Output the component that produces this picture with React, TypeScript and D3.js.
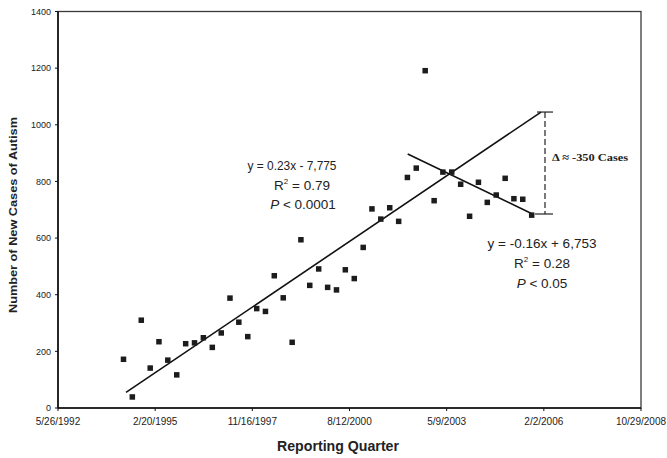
import React from "react";
import * as d3 from "d3";

// X axis in spreadsheet serial day numbers
const xTicks = [33750, 34750, 35750, 36750, 37750, 38750, 39750];
const yTicks = [0, 200, 400, 600, 800, 1000, 1200, 1400];

const quarters = [
  "3/31/1994", "6/30/1994", "9/30/1994", "12/31/1994",
  "3/31/1995", "6/30/1995", "9/30/1995", "12/31/1995",
  "3/31/1996", "6/30/1996", "9/30/1996", "12/31/1996",
  "3/31/1997", "6/30/1997", "9/30/1997", "12/31/1997",
  "3/31/1998", "6/30/1998", "9/30/1998", "12/31/1998",
  "3/31/1999", "6/30/1999", "9/30/1999", "12/31/1999",
  "3/31/2000", "6/30/2000", "9/30/2000", "12/31/2000",
  "3/31/2001", "6/30/2001", "9/30/2001", "12/31/2001",
  "3/31/2002", "6/30/2002", "9/30/2002", "12/31/2002",
  "3/31/2003", "6/30/2003", "9/30/2003", "12/31/2003",
  "3/31/2004", "6/30/2004", "9/30/2004", "12/31/2004",
  "3/31/2005", "6/30/2005", "9/30/2005",
];

const newCases = [
  172, 39, 310, 141, 234, 169, 117, 227,
  230, 248, 214, 265, 388, 303, 252, 351,
  341, 467, 389, 232, 594, 433, 491, 426,
  417, 488, 457, 567, 703, 667, 707, 659,
  814, 847, 1191, 732, 833, 833, 790, 677,
  797, 726, 752, 811, 739, 737, 681,
];

// Trend line endpoints (serial day, cases)
const trend1X = [34450, 38721];
const trend1Y = [55, 1045];
const trend2X = [37349, 38633];
const trend2Y = [897, 685];
const deltaX = 38762;

const excelEpoch = Date.UTC(1899, 11, 30);
const toSerial = (s: string) => {
  const [m, d, y] = s.split("/").map(Number);
  return Math.round((Date.UTC(y, m - 1, d) - excelEpoch) / 86400000);
};
const fmtSerial = (n: number) => {
  const dt = new Date(excelEpoch + n * 86400000);
  return `${dt.getUTCMonth() + 1}/${dt.getUTCDate()}/${dt.getUTCFullYear()}`;
};

export default function App() {
  const W = 667, H = 458;
  const x = d3.scaleLinear().domain([33750, 39750]).range([58, 641]);
  const y = d3.scaleLinear().domain([0, 1400]).range([408, 11.5]);
  const line = d3.line<[number, number]>().x((d) => x(d[0])).y((d) => y(d[1]));
  const t1: [number, number][] = trend1X.map((v, i) => [v, trend1Y[i]]);
  const t2: [number, number][] = trend2X.map((v, i) => [v, trend2Y[i]]);
  const sq = 5.5;
  const sans = "'Liberation Sans', Arial, sans-serif";
  const [x0, x1] = x.range();
  const [yb, yt] = y.range();
  return (
    <svg width={W} height={H} style={{ position: "absolute", left: 0, top: 0, background: "#fff" }}>
      <rect x={0} y={0} width={W} height={H} fill="#fff" />
      {/* frame */}
      <rect x={x0} y={yt} width={x1 - x0} height={yb - yt} fill="none" stroke="#3a3a3a" strokeWidth={1.3} />
      <line x1={x0} x2={x0} y1={yt} y2={yb} stroke="#111" strokeWidth={1.6} />
      <line x1={x0} x2={x1} y1={yb} y2={yb} stroke="#111" strokeWidth={1.6} />
      {/* y ticks */}
      {yTicks.map((t) => (
        <g key={"y" + t}>
          <line x1={x0 - 3} x2={x0} y1={y(t)} y2={y(t)} stroke="#111" strokeWidth={1} />
          <text x={51} y={y(t) + 3.2} textAnchor="end" fontFamily={sans} fontSize={9} fill="#222">
            {t}
          </text>
        </g>
      ))}
      {/* x ticks */}
      {xTicks.map((t) => (
        <g key={"x" + t}>
          <line x1={x(t)} x2={x(t)} y1={yb} y2={yb + 3} stroke="#111" strokeWidth={1} />
          <text x={x(t)} y={425} textAnchor="middle" fontFamily={sans} fontSize={10} fill="#222">
            {fmtSerial(t)}
          </text>
        </g>
      ))}
      {/* axis titles */}
      <text
        transform={`translate(17,${215}) rotate(-90)`}
        textAnchor="middle"
        fontFamily={sans}
        fontSize={11.5}
        fontWeight="bold"
        fill="#222"
        textLength={196}
        lengthAdjust="spacingAndGlyphs"
      >
        Number of New Cases of Autism
      </text>
      <text x={338} y={451} textAnchor="middle" fontFamily={sans} fontSize={14.5} fontWeight="bold" fill="#222"
        textLength={122} lengthAdjust="spacingAndGlyphs">
        Reporting Quarter
      </text>
      {/* trend lines */}
      <path d={line(t1) || ""} fill="none" stroke="#111" strokeWidth={1.6} />
      <path d={line(t2) || ""} fill="none" stroke="#111" strokeWidth={1.6} />
      {/* points */}
      {quarters.map((q, i) => (
        <rect
          key={q}
          x={x(toSerial(q)) - sq / 2}
          y={y(newCases[i]) - sq / 2}
          width={sq}
          height={sq}
          fill="#1c1c1c"
        />
      ))}
      {/* delta bracket */}
      <line x1={x(deltaX)} x2={x(deltaX)} y1={y(trend1Y[1])} y2={y(trend2Y[1])} stroke="#222" strokeWidth={1.2} strokeDasharray="6,3" />
      <line x1={x(deltaX) - 8} x2={x(deltaX) + 8} y1={y(trend1Y[1])} y2={y(trend1Y[1])} stroke="#222" strokeWidth={1.2} />
      <line x1={x(deltaX) - 10} x2={x(deltaX) + 8} y1={y(trend2Y[1])} y2={y(trend2Y[1])} stroke="#222" strokeWidth={1.2} />
      <text x={552} y={161} fontFamily="'Liberation Serif', 'Times New Roman', serif" fontSize={11} fontWeight="bold" fill="#222"
        textLength={76} lengthAdjust="spacingAndGlyphs">
        Δ ≈ -350 Cases
      </text>
      {/* equation 1 */}
      <g fontFamily={sans} fontSize={13.5} fill="#222" textAnchor="middle">
        <text x={292} y={170} textLength={89} lengthAdjust="spacingAndGlyphs">y = 0.23x - 7,775</text>
        <text x={302} y={190}>
          R<tspan fontSize={8} dy={-6}>2</tspan>
          <tspan dy={6}> = 0.79</tspan>
        </text>
        <text x={303} y={209}>
          <tspan fontStyle="italic">P</tspan> &lt; 0.0001
        </text>
      </g>
      {/* equation 2 */}
      <g fontFamily={sans} fontSize={13.5} fill="#222" textAnchor="middle">
        <text x={542} y={248}>y = -0.16x + 6,753</text>
        <text x={542} y={268}>
          R<tspan fontSize={8} dy={-6}>2</tspan>
          <tspan dy={6}> = 0.28</tspan>
        </text>
        <text x={542} y={288}>
          <tspan fontStyle="italic">P</tspan> &lt; 0.05
        </text>
      </g>
    </svg>
  );
}
